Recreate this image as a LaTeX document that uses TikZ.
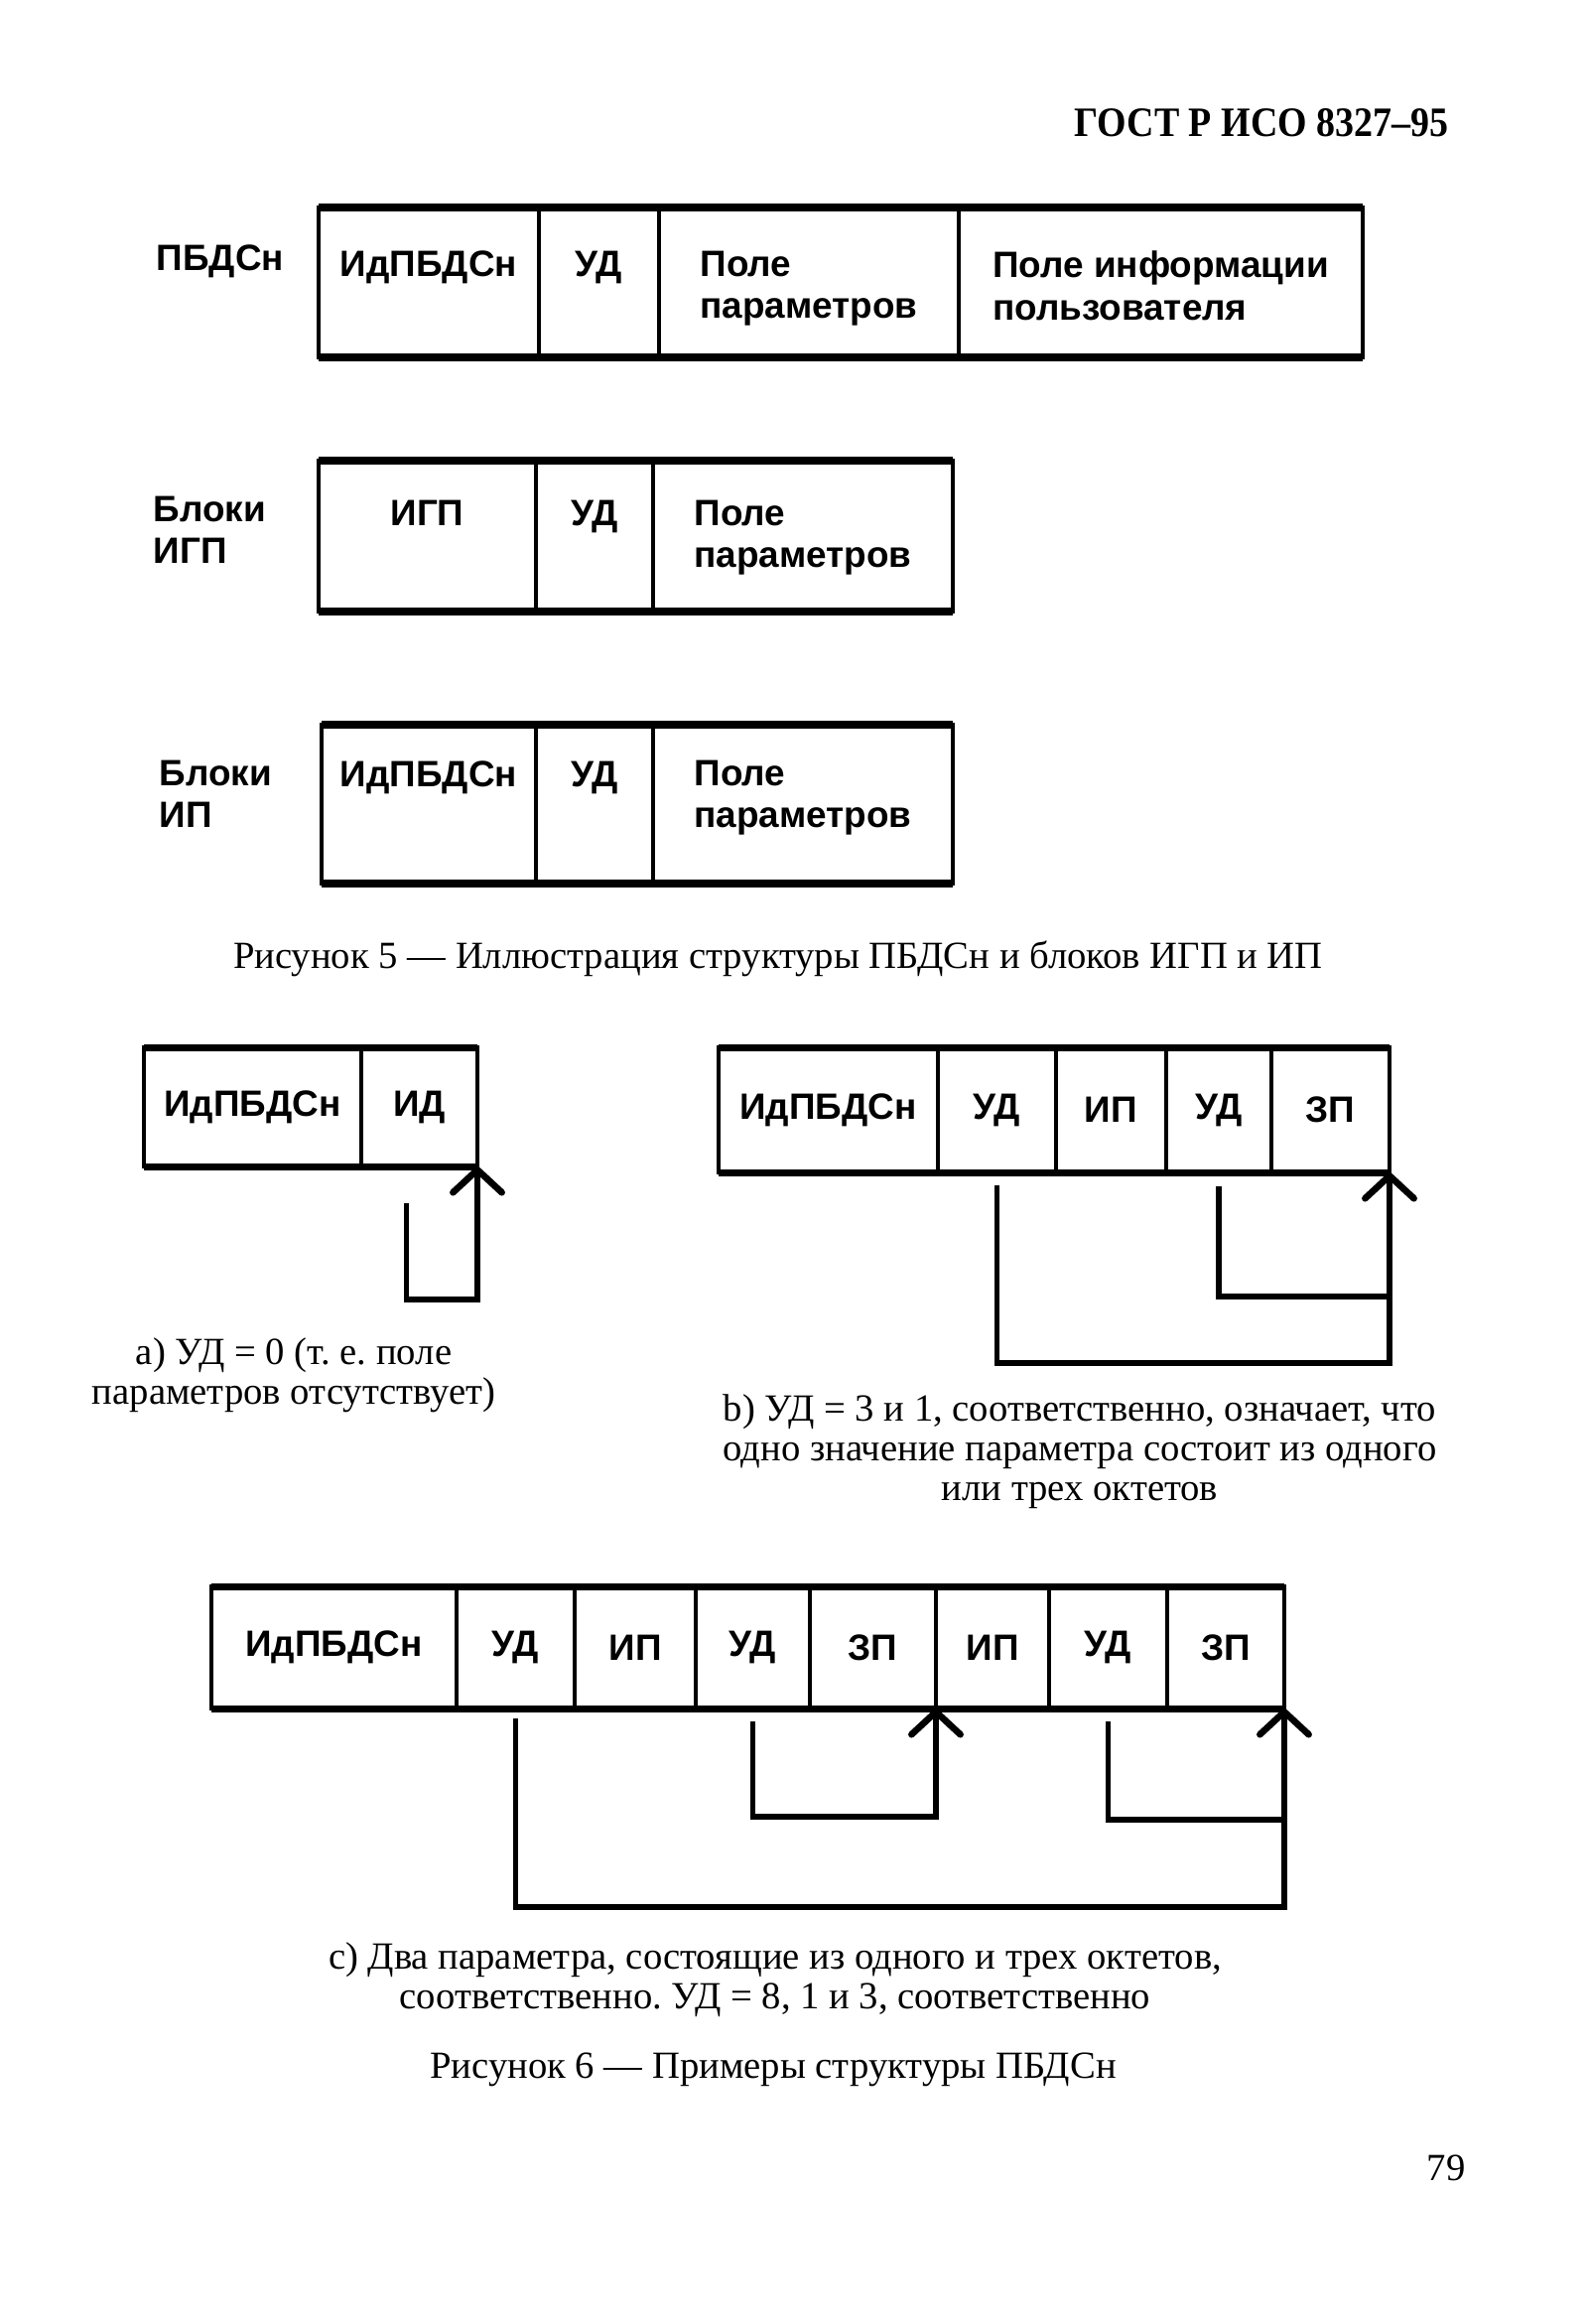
\documentclass[tikz,border=0pt]{standalone}
\usepackage{fontspec}
\setmainfont{Liberation Serif}
\setsansfont{Liberation Sans}
\newfontfamily\gostfont[FakeStretch=0.9]{Liberation Serif}
\usetikzlibrary{positioning,arrows.meta}

\newcommand\cellfont{\sffamily\bfseries\fontsize{10.5}{12.2}\selectfont}
\newcommand\capfont{\frenchspacing\fontsize{11}{11.4}\selectfont}

\begin{document}
\begin{tikzpicture}[x=0.1mm,y=-0.1mm,
    cell/.style={draw, line width=1.3pt, inner sep=0pt, outer sep=0pt, font=\cellfont},
    rim/.style={line width=2pt},
    txt/.style={inner sep=0pt, font=\cellfont, align=left, anchor=north},
    side/.style={inner sep=0pt, font=\cellfont, align=left, anchor=north west},
    figcap/.style={inner sep=0pt, font=\capfont, align=center},
    link/.style={line width=1.7pt, -{Straight Barb[length=6.5pt,width=14pt,line width=1.9pt,round]}},
    wire/.style={line width=1.7pt}
]
\useasboundingbox (0,0) rectangle (1600,2341);

\node[inner sep=0pt, anchor=east, font=\gostfont\bfseries\fontsize{12}{14}\selectfont] (gost) at (1460,124) {ГОСТ Р ИСО 8327–95};

% Figure 5, PDU
\node[side] (lp) at (157,246) {ПБДСн};
\node[cell, minimum width=22.2mm, minimum height=15.1mm, anchor=north west] (p1) at (321,209) {};
\node[cell, minimum width=12.1mm, minimum height=15.1mm, right=0pt of p1] (p2) {};
\node[cell, minimum width=30.2mm, minimum height=15.1mm, right=0pt of p2] (p3) {};
\node[cell, minimum width=40.7mm, minimum height=15.1mm, right=0pt of p3] (p4) {};
\draw[rim] (p1.north west) -- (p4.north east);
\draw[rim] (p1.south west) -- (p4.south east);
\node[txt, below=4.3mm of p1.north] (tp1) {ИдПБДСн};
\node[txt, below=4.3mm of p2.north] (tp2) {УД};
\node[txt, below=4.3mm of p3.north] (tp3) {Поле\\параметров};
\node[txt, below=4.3mm of p4.north] (tp4) {Поле информации\\пользователя};

% Figure 5, PGI units
\node[side] (lg) at (154,499) {Блоки\\ИГП};
\node[cell, minimum width=21.9mm, minimum height=15.2mm, anchor=north west] (g1) at (321,464) {};
\node[cell, minimum width=11.8mm, minimum height=15.2mm, right=0pt of g1] (g2) {};
\node[cell, minimum width=30.2mm, minimum height=15.2mm, right=0pt of g2] (g3) {};
\draw[rim] (g1.north west) -- (g3.north east);
\draw[rim] (g1.south west) -- (g3.south east);
\node[txt, below=3.9mm of g1.north] (tg1) {ИГП};
\node[txt, below=3.9mm of g2.north] (tg2) {УД};
\node[txt, below=3.9mm of g3.north] (tg3) {Поле\\параметров};

% Figure 5, PI units
\node[side] (li) at (160,765) {Блоки\\ИП};
\node[cell, minimum width=21.6mm, minimum height=16mm, anchor=north west] (i1) at (324,730) {};
\node[cell, minimum width=11.8mm, minimum height=16mm, right=0pt of i1] (i2) {};
\node[cell, minimum width=30.2mm, minimum height=16mm, right=0pt of i2] (i3) {};
\draw[rim] (i1.north west) -- (i3.north east);
\draw[rim] (i1.south west) -- (i3.south east);
\node[txt, below=3.6mm of i1.north] (ti1) {ИдПБДСн};
\node[txt, below=3.6mm of i2.north] (ti2) {УД};
\node[txt, below=3.5mm of i3.north] (ti3) {Поле\\параметров};

\node[figcap] (cap5) at (784,966) {Рисунок 5 — Иллюстрация структуры ПБДСн и блоков ИГП и ИП};

% Figure 6 a)
\foreach \x/\w/\t [count=\i] in {145/219/ИдПБДСн, 364/117/ИД} {
  \node[cell, minimum width=\w*0.1mm, minimum height=12mm, anchor=north west] (a\i) at (\x,1055) {\t};
}
\draw[rim] (a1.north west) -- (a2.north east);
\draw[rim] (a1.south west) -- (a2.south east);
\draw[link] ([xshift=-1.3mm,yshift=-3.7mm]a2.south) -- ++(0,-9.7mm) -| (a2.south east);
\node[figcap] (capa) at (296,1385) {a) УД = 0 (т. е. поле\\параметров отсутствует)};

% Figure 6 b)
\foreach \x/\w/\t [count=\i] in {724/221/ИдПБДСн, 945/119/УД, 1064/111/ИП, 1175/106/УД, 1281/119/ЗП} {
  \node[cell, minimum width=\w*0.1mm, minimum height=12.6mm, anchor=north west] (b\i) at (\x,1055) {\t};
}
\draw[rim] (b1.north west) -- (b5.north east);
\draw[rim] (b1.south west) -- (b5.south east);
\coordinate (bb) at ([yshift=-12.5mm]b5.south east);
\draw[link] ([yshift=-1.3mm]b2.south) -- ++(0,-17.9mm) -| (b5.south east);
\draw[wire] ([yshift=-1.4mm]b4.south) |- (bb);
\node[figcap] (capb) at (1088,1462) {b) УД = 3 и 1, соответственно, означает, что\\одно значение параметра состоит из одного\\или трех октетов};

% Figure 6 c)
\foreach \x/\w/\t [count=\i] in {213/247/ИдПБДСн, 460/119/УД, 579/122/ИП, 701/115/УД,
    816/127/ЗП, 943/114/ИП, 1057/119/УД, 1176/118/ЗП} {
  \node[cell, minimum width=\w*0.1mm, minimum height=12.3mm, anchor=north west] (c\i) at (\x,1598) {\t};
}
\draw[rim] (c1.north west) -- (c8.north east);
\draw[rim] (c1.south west) -- (c8.south east);
\coordinate (cc) at ([yshift=-11.2mm]c8.south east);
\draw[link] ([yshift=-1mm]c2.south) -- ++(0,-19mm) -| (c8.south east);
\draw[link] ([yshift=-1.3mm]c4.south) -- ++(0,-9.6mm) -| (c5.south east);
\draw[wire] ([yshift=-1.3mm]c7.south) |- (cc);
\node[figcap] (capc) at (781,1994) {c) Два параметра, состоящие из одного и трех октетов,\\соответственно. УД = 8, 1 и 3, соответственно};

\node[figcap] (cap6) at (779,2085) {Рисунок 6 — Примеры структуры ПБДСн};

\node[figcap] (page) at (1457,2184) {79};
\end{tikzpicture}
\end{document}
